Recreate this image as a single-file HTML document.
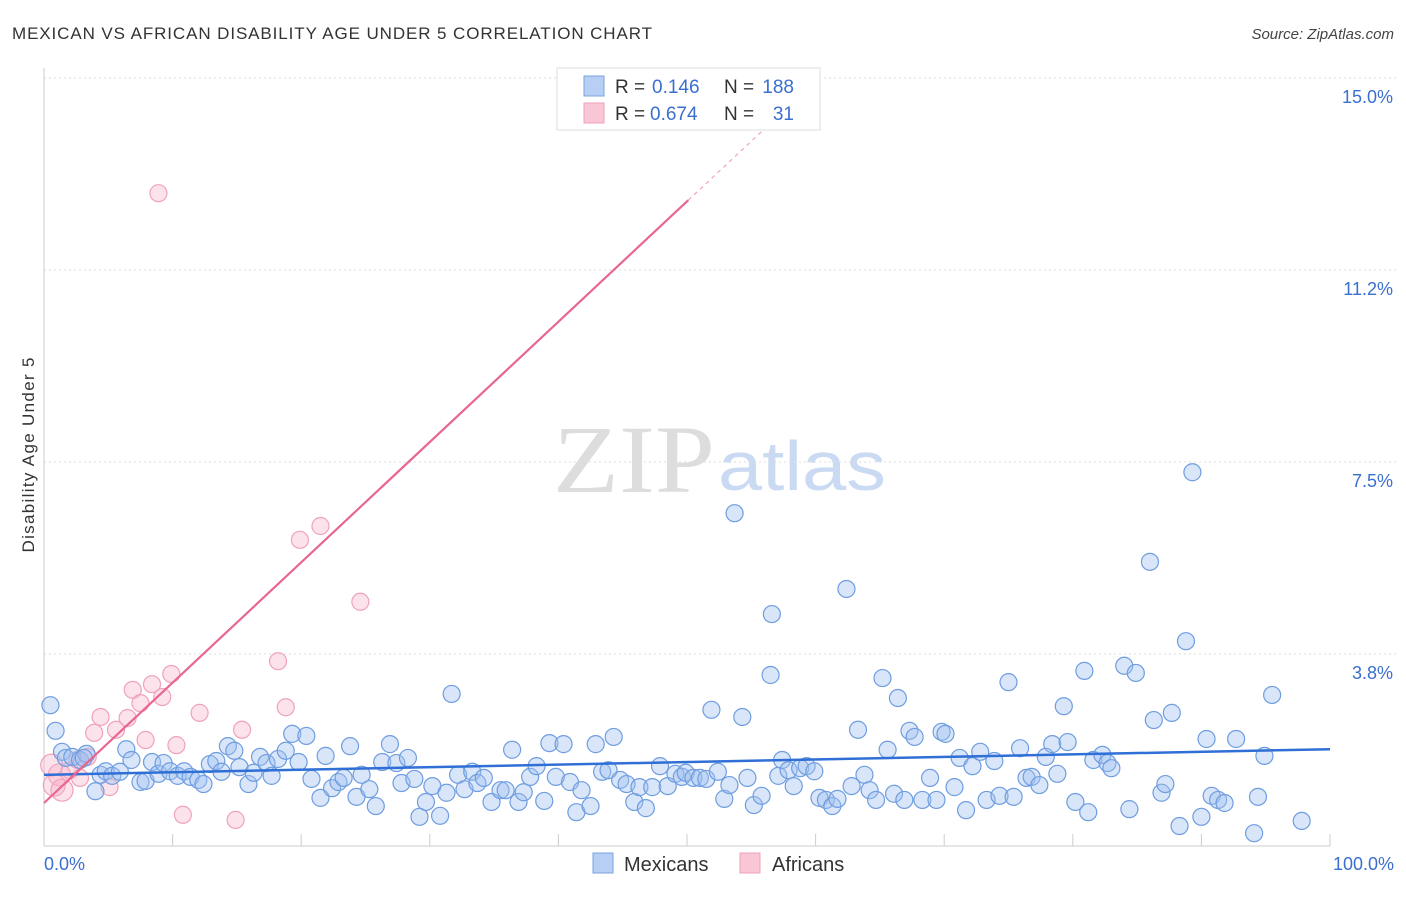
<!DOCTYPE html>
<html><head><meta charset="utf-8"><style>
body{margin:0;background:#fff;font-family:"Liberation Sans",sans-serif;}
</style></head><body>
<svg id="chart" width="1406" height="892" xmlns="http://www.w3.org/2000/svg" font-family="Liberation Sans, sans-serif">
<text x="12" y="39" font-size="17" fill="#333" textLength="640" lengthAdjust="spacing">MEXICAN VS AFRICAN DISABILITY AGE UNDER 5 CORRELATION CHART</text>
<text x="1394" y="39" font-size="15" fill="#444" text-anchor="end" font-style="italic">Source: ZipAtlas.com</text>
<g>
<text x="553" y="492" font-size="96" fill="#ddd" style="font-family:'Liberation Serif',serif" textLength="162" lengthAdjust="spacingAndGlyphs">ZIP</text>
<text x="718" y="490" font-size="70" fill="#c9daf2" textLength="168" lengthAdjust="spacingAndGlyphs">atlas</text>
</g>
<g id="grid"></g>
<g id="axes"></g>
<g id="marks"></g>
<g id="trends"></g>
<text transform="translate(34,455) rotate(-90)" font-size="17" fill="#333" text-anchor="middle" textLength="195" lengthAdjust="spacing">Disability Age Under 5</text>
<g>
<rect x="557" y="68" width="263" height="62" fill="#fff" stroke="#ddd"/>
<rect x="584" y="76" width="20" height="20" fill="#b7cff5" stroke="#7aa3e0"/>
<rect x="584" y="103" width="20" height="20" fill="#f9c6d5" stroke="#eea3ba"/>
<text x="615" y="93" font-size="19" fill="#333">R =</text>
<text x="652" y="93" font-size="19" fill="#3a6fd0">0.146</text>
<text x="724" y="93" font-size="19" fill="#333">N =</text>
<text x="794" y="93" font-size="19" fill="#3a6fd0" text-anchor="end">188</text>
<text x="615" y="120" font-size="19" fill="#333">R =</text>
<text x="650" y="120" font-size="19" fill="#3a6fd0">0.674</text>
<text x="724" y="120" font-size="19" fill="#333">N =</text>
<text x="794" y="120" font-size="19" fill="#3a6fd0" text-anchor="end">31</text>
</g>
<g>
<rect x="593" y="853" width="20" height="20" fill="#b7cff5" stroke="#7aa3e0"/>
<text x="624" y="871" font-size="20" fill="#333">Mexicans</text>
<rect x="740" y="853" width="20" height="20" fill="#f9c6d5" stroke="#eea3ba"/>
<text x="772" y="871" font-size="20" fill="#333">Africans</text>
</g>
</svg>
<script>
const yTicks=[3.75,7.5,11.25,15];
const yTickLabels=["3.8%","7.5%","11.2%","15.0%"];
const xTickLabels=["0.0%","100.0%"];
const mexX=[0.5,0.9,1.4,1.7,2.2,2.8,3.3,3.1,4.0,4.4,4.8,5.3,5.9,6.4,6.8,7.5,7.9,8.4,8.9,9.3,9.8,10.4,10.9,11.4,12.0,12.4,12.9,13.4,13.8,14.3,14.8,15.2,15.9,16.3,16.8,17.3,17.7,18.2,18.8,19.3,19.8,20.4,20.8,21.5,21.9,22.4,22.9,23.3,23.8,24.3,24.7,25.3,25.8,26.3,26.9,27.4,27.8,28.3,28.8,29.2,29.7,30.2,30.8,31.3,31.7,32.2,32.7,33.3,33.7,34.2,34.8,35.5,35.9,36.4,36.9,37.3,37.8,38.3,38.9,39.3,39.8,40.4,40.9,41.4,41.8,42.5,42.9,43.4,43.9,44.3,44.8,45.3,45.9,46.3,46.8,47.3,47.9,48.5,49.1,49.6,49.9,50.5,51.0,51.5,51.9,52.4,52.9,53.3,53.7,54.3,54.7,55.2,55.8,56.5,56.6,57.1,57.4,57.9,58.3,58.8,59.3,59.9,60.3,60.8,61.3,61.7,62.4,62.8,63.3,63.8,64.2,64.7,65.2,65.6,66.1,66.4,66.9,67.3,67.7,68.3,68.9,69.4,69.8,70.1,70.8,71.2,71.7,72.2,72.8,73.3,73.9,74.3,75.0,75.4,75.9,76.4,76.8,77.4,77.9,78.4,78.8,79.3,79.6,80.2,80.9,81.2,81.6,82.3,82.7,83.0,84.0,84.4,84.9,86.0,86.3,86.9,87.2,87.7,88.3,88.8,89.3,90.0,90.4,90.8,91.3,91.8,92.7,94.4,94.1,94.9,95.5,97.8];
const mexY=[2.75,2.25,1.84,1.72,1.74,1.68,1.80,1.72,1.07,1.39,1.46,1.37,1.45,1.89,1.68,1.25,1.27,1.64,1.41,1.62,1.46,1.37,1.46,1.35,1.29,1.21,1.60,1.66,1.45,1.95,1.86,1.54,1.21,1.43,1.74,1.62,1.37,1.70,1.86,2.19,1.64,2.15,1.31,0.94,1.76,1.13,1.25,1.33,1.95,0.96,1.39,1.11,0.78,1.64,1.99,1.62,1.23,1.72,1.31,0.57,0.86,1.17,0.59,1.04,2.97,1.39,1.11,1.45,1.23,1.33,0.86,1.09,1.09,1.88,0.86,1.05,1.35,1.56,0.88,2.01,1.35,1.99,1.25,0.66,1.09,0.78,1.99,1.45,1.48,2.13,1.29,1.21,0.86,1.15,0.74,1.15,1.56,1.17,1.41,1.35,1.43,1.33,1.33,1.31,2.66,1.45,0.92,1.19,6.50,2.52,1.33,0.80,0.98,3.34,4.53,1.37,1.68,1.48,1.17,1.52,1.56,1.46,0.94,0.90,0.78,0.92,5.02,1.17,2.27,1.39,1.09,0.90,3.28,1.88,1.02,2.89,0.90,2.25,2.13,0.90,1.33,0.90,2.23,2.19,1.15,1.72,0.70,1.56,1.84,0.90,1.66,0.98,3.20,0.96,1.91,1.33,1.35,1.19,1.74,1.99,1.41,2.73,2.03,0.86,3.42,0.66,1.68,1.78,1.62,1.52,3.52,0.72,3.38,5.55,2.46,1.04,1.21,2.60,0.39,4.00,7.30,0.57,2.09,0.98,0.90,0.84,2.09,0.96,0.25,1.76,2.95,0.49];
const afrX=[8.9,21.5,19.9,24.6,18.2,9.9,8.4,6.9,9.2,7.5,18.8,12.1,4.4,6.5,5.6,15.4,3.9,7.9,10.3,3.4,2.6,2.0,2.8,1.2,0.6,0.8,1.4,5.1,10.8,14.9];
const afrY=[12.75,6.25,5.98,4.77,3.61,3.36,3.16,3.05,2.91,2.79,2.71,2.60,2.52,2.50,2.27,2.27,2.21,2.07,1.97,1.74,1.68,1.48,1.33,1.39,1.58,1.19,1.09,1.15,0.61,0.51];
const mexTrend=[1.39,1.89];
const afrTrend=[0.84,0.235];
const NS="http://www.w3.org/2000/svg";
const X0=44,X1=1330,Y0=846,PXPER=51.2;
function xs(v){return X0+(X1-X0)*v/100;}
function ys(v){return Y0-v*PXPER;}
function mk(t,a,p){const e=document.createElementNS(NS,t);for(const k in a)e.setAttribute(k,a[k]);p.appendChild(e);return e;}
const grid=document.getElementById('grid'),axes=document.getElementById('axes'),marks=document.getElementById('marks'),trends=document.getElementById('trends');
yTicks.forEach((t,i)=>{
 const l=mk('line',{x1:X0,x2:1396,y1:ys(t),y2:ys(t),stroke:'#ddd','stroke-dasharray':'2,3'},grid);
 
 
 const tx=mk('text',{x:1393,y:ys(t)+25,'font-size':18,fill:'#3a6fd0','text-anchor':'end'},axes);
 tx.textContent=yTickLabels[i];
 
 
});
const ax=mk('line',{x1:X0,x2:X0,y1:68,y2:Y0,stroke:'#ccc'},axes);


const bx=mk('line',{x1:X0,x2:X1,y1:Y0,y2:Y0,stroke:'#ccc'},axes);


for(let i=0;i<=10;i++){
 const t=mk('line',{x1:xs(i*10),x2:xs(i*10),y1:Y0-12,y2:Y0,stroke:'#ccc'},axes);
 
 
}
[[0,'start',X0],[1,'end',1394]].forEach(([i,a,x])=>{
 const t=mk('text',{x:x,y:870,'font-size':18,fill:'#3a6fd0','text-anchor':a},axes);
 t.textContent=xTickLabels[i];
 
 
});
afrX.forEach((x,i)=>{
 const c=mk('circle',{cx:xs(x),cy:ys(afrY[i]),r:(x<2?11:8.5),fill:'rgba(246,172,198,0.35)',stroke:'#f0a2ba','stroke-width':1.2},marks);
 
 
});
mexX.forEach((x,i)=>{
 const c=mk('circle',{cx:xs(x),cy:ys(mexY[i]),r:8.5,fill:'rgba(160,192,240,0.4)',stroke:'#6e9de0','stroke-width':1.2},marks);
 
 
});
const bl=mk('line',{x1:xs(0),y1:ys(mexTrend[0]),x2:xs(100),y2:ys(mexTrend[1]),stroke:'#2f6fd6','stroke-width':2.5},trends);


const pl=mk('line',{x1:xs(0),y1:ys(afrTrend[0]),x2:xs(50.1),y2:ys(afrTrend[0]+afrTrend[1]*50.1),stroke:'#e8668f','stroke-width':2.2},trends);


const pd=mk('line',{x1:xs(50.1),y1:ys(afrTrend[0]+afrTrend[1]*50.1),x2:xs(58),y2:ys(afrTrend[0]+afrTrend[1]*58),stroke:'#f0a5bc','stroke-width':1.2,'stroke-dasharray':'4,4'},trends);


</script>
</body></html>
